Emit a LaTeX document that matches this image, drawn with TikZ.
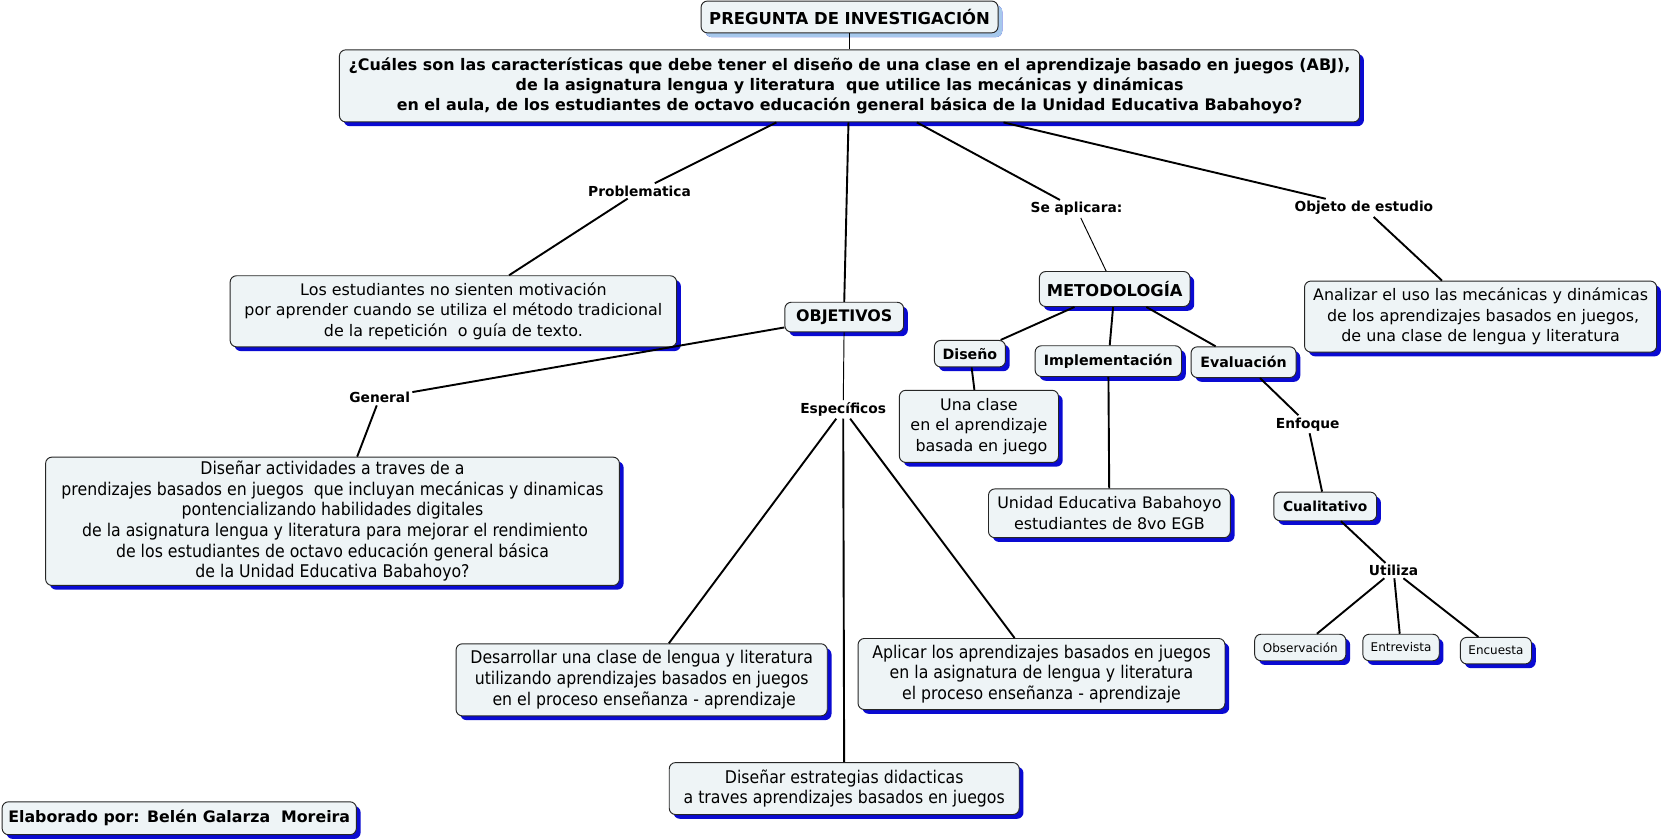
\documentclass[tikz,border=0pt]{standalone}
\usepackage{fontspec}
\setmainfont{DejaVu Sans}
\newfontfamily\narrowfont[FakeStretch=0.9]{DejaVu Sans}
\usetikzlibrary{shadows}
\definecolor{boxfill}{HTML}{EEF4F6}
\definecolor{shblue}{HTML}{0A0AD2}
\definecolor{shlight}{HTML}{A6C8EC}
\tikzset{
  cbox/.style={draw=black!85, line width=0.9pt, fill=boxfill, rounded corners=6pt,
    align=center, inner sep=1pt,
    drop shadow={shadow xshift=4pt, shadow yshift=-4pt, fill=shblue, opacity=1}},
  lightbox/.style={cbox, drop shadow={shadow xshift=4pt, shadow yshift=-4pt, fill=shlight, opacity=1}},
  wh/.style 2 args={minimum width=#1pt, minimum height=#2pt},
  lbl/.style={inner sep=2pt, font=\bfseries\fontsize{13}{15}\selectfont},
  conn/.style={line width=1.8pt, draw=black},
  thin/.style={line width=0.9pt, draw=black},
  normal/.style={font=\fontsize{15}{19.5}\selectfont},
  narrow/.style={font=\narrowfont\fontsize{16.5}{19.5}\selectfont},
}
\begin{document}
\begin{tikzpicture}[x=1pt,y=-1pt]
\useasboundingbox (0,0) rectangle (1568,792);
\fill[white] (0,0) rectangle (1568,792);

% boxes
\node[lightbox, wh={280}{30}, font=\bfseries\fontsize{15.5}{17}\selectfont] (preg) at (801,16) {PREGUNTA DE INVESTIGACIÓN};
\node[cbox, wh={962}{68}, font=\bfseries\fontsize{15}{19}\selectfont] (q) at (801,81)
  {¿Cuáles son las características que debe tener el diseño de una clase en el aprendizaje basado en juegos (ABJ),\\
   de la asignatura lengua y literatura\ \ que utilice las mecánicas y dinámicas\\
   en el aula, de los estudiantes de octavo educación general básica de la Unidad Educativa Babahoyo?};
\node[cbox, wh={421}{67}, normal] (est) at (427.5,293.5)
  {Los estudiantes no sienten motivación\\ por aprender cuando se utiliza el método tradicional\\ de la repetición\ \ o guía de texto.};
\node[cbox, wh={112}{28}, font=\bfseries\fontsize{15}{17}\selectfont] (obj) at (796,299) {OBJETIVOS};
\node[cbox, wh={541}{121}, narrow] (dact) at (313.5,491.5)
  {Diseñar actividades a traves de a\\ prendizajes basados en juegos\ \ que incluyan mecánicas y dinamicas\\ pontencializando habilidades digitales\\ \ de la asignatura lengua y literatura para mejorar el rendimiento\\ de los estudiantes de octavo educación general básica\\ de la Unidad Educativa Babahoyo?};
\node[cbox, wh={142}{33}, font=\bfseries\fontsize{15.4}{17}\selectfont] (met) at (1051,272.5) {METODOLOGÍA};
\node[cbox, wh={67}{25}, font=\bfseries\fontsize{13.4}{15}\selectfont] (dis) at (914.5,333.5) {Diseño};
\node[cbox, wh={138}{29}, font=\bfseries\fontsize{13.4}{15}\selectfont] (imp) at (1045,340.5) {Implementación};
\node[cbox, wh={99}{29}, font=\bfseries\fontsize{13.4}{15}\selectfont] (eva) at (1172.5,341.5) {Evaluación};
\node[cbox, wh={150}{68}, normal] (una) at (923,402) {Una clase\\ en el aprendizaje\\ \ basada en juego};
\node[cbox, wh={228}{46}, normal] (uni) at (1046,484) {Unidad Educativa Babahoyo\\ estudiantes de 8vo EGB};
\node[cbox, wh={97}{27}, font=\bfseries\fontsize{13}{15}\selectfont] (cua) at (1249.5,477.5) {Cualitativo};
\node[cbox, wh={86}{25}, font=\fontsize{11.3}{13}\selectfont] (obs) at (1226,610.5) {Observación};
\node[cbox, wh={72}{25}, font=\fontsize{11.3}{13}\selectfont] (ent) at (1321,610.5) {Entrevista};
\node[cbox, wh={67}{25}, font=\fontsize{11.3}{13}\selectfont] (enc) at (1410.5,613.5) {Encuesta};
\node[cbox, wh={332}{67}, normal] (ana) at (1396,298.5)
  {Analizar el uso las mecánicas y dinámicas\\ \ de los aprendizajes basados en juegos,\\ de una clase de lengua y literatura};
\node[cbox, wh={350}{68}, narrow] (des) at (605,641)
  {Desarrollar una clase de lengua y literatura\\ utilizando aprendizajes basados en juegos\\ \ en el proceso enseñanza - aprendizaje};
\node[cbox, wh={346}{67}, narrow] (apl) at (982,635.5)
  {Aplicar los aprendizajes basados en juegos\\ en la asignatura de lengua y literatura\\ el proceso enseñanza - aprendizaje};
\node[cbox, wh={330}{49}, narrow] (estr) at (796,743.5)
  {Diseñar estrategias didacticas\\ a traves aprendizajes basados en juegos};
\node[cbox, wh={334}{31}, font=\bfseries\fontsize{14.9}{17}\selectfont] (ela) at (169,771.5) {Elaborado por: Belén Galarza\ \ Moreira};

% labels
\node[lbl] (prob) at (603,180) {Problematica};
\node[lbl] (seap) at (1015,197) {Se aplicara:};
\node[lbl] (objest) at (1286,196) {Objeto de estudio};
\node[lbl] (gen) at (358,375) {General};
\node[lbl] (espec) at (795,386) {Específicos};
\node[lbl] (enf) at (1233,400) {Enfoque};
\node[lbl] (uti) at (1314,538) {Utiliza};

% connectors
\draw[thin] (preg) -- (q);
\draw[conn] (q) -- (prob);
\draw[conn] (prob) -- (est);
\draw[conn] (q.south -| 800,0) -- (obj.north);
\draw[conn] (q) -- (seap);
\draw[thin] (seap) -- (met);
\draw[conn] (q) -- (objest);
\draw[conn] (objest) -- (ana);
\draw[conn] (obj) -- (gen);
\draw[conn] (gen) -- (dact);
\draw[thin] (obj) -- (espec);
\draw[conn] (espec) -- (des);
\draw[conn] (espec) -- (estr);
\draw[conn] (espec) -- (apl);
\draw[conn] (met) -- (dis);
\draw[conn] (met) -- (imp);
\draw[conn] (met) -- (eva);
\draw[conn] (dis) -- (una);
\draw[conn] (imp) -- (uni);
\draw[conn] (eva) -- (enf);
\draw[conn] (enf) -- (cua);
\draw[conn] (cua) -- (uti);
\draw[conn] (uti) -- (obs);
\draw[conn] (uti) -- (ent);
\draw[conn] (uti) -- (enc);
\end{tikzpicture}
\end{document}
